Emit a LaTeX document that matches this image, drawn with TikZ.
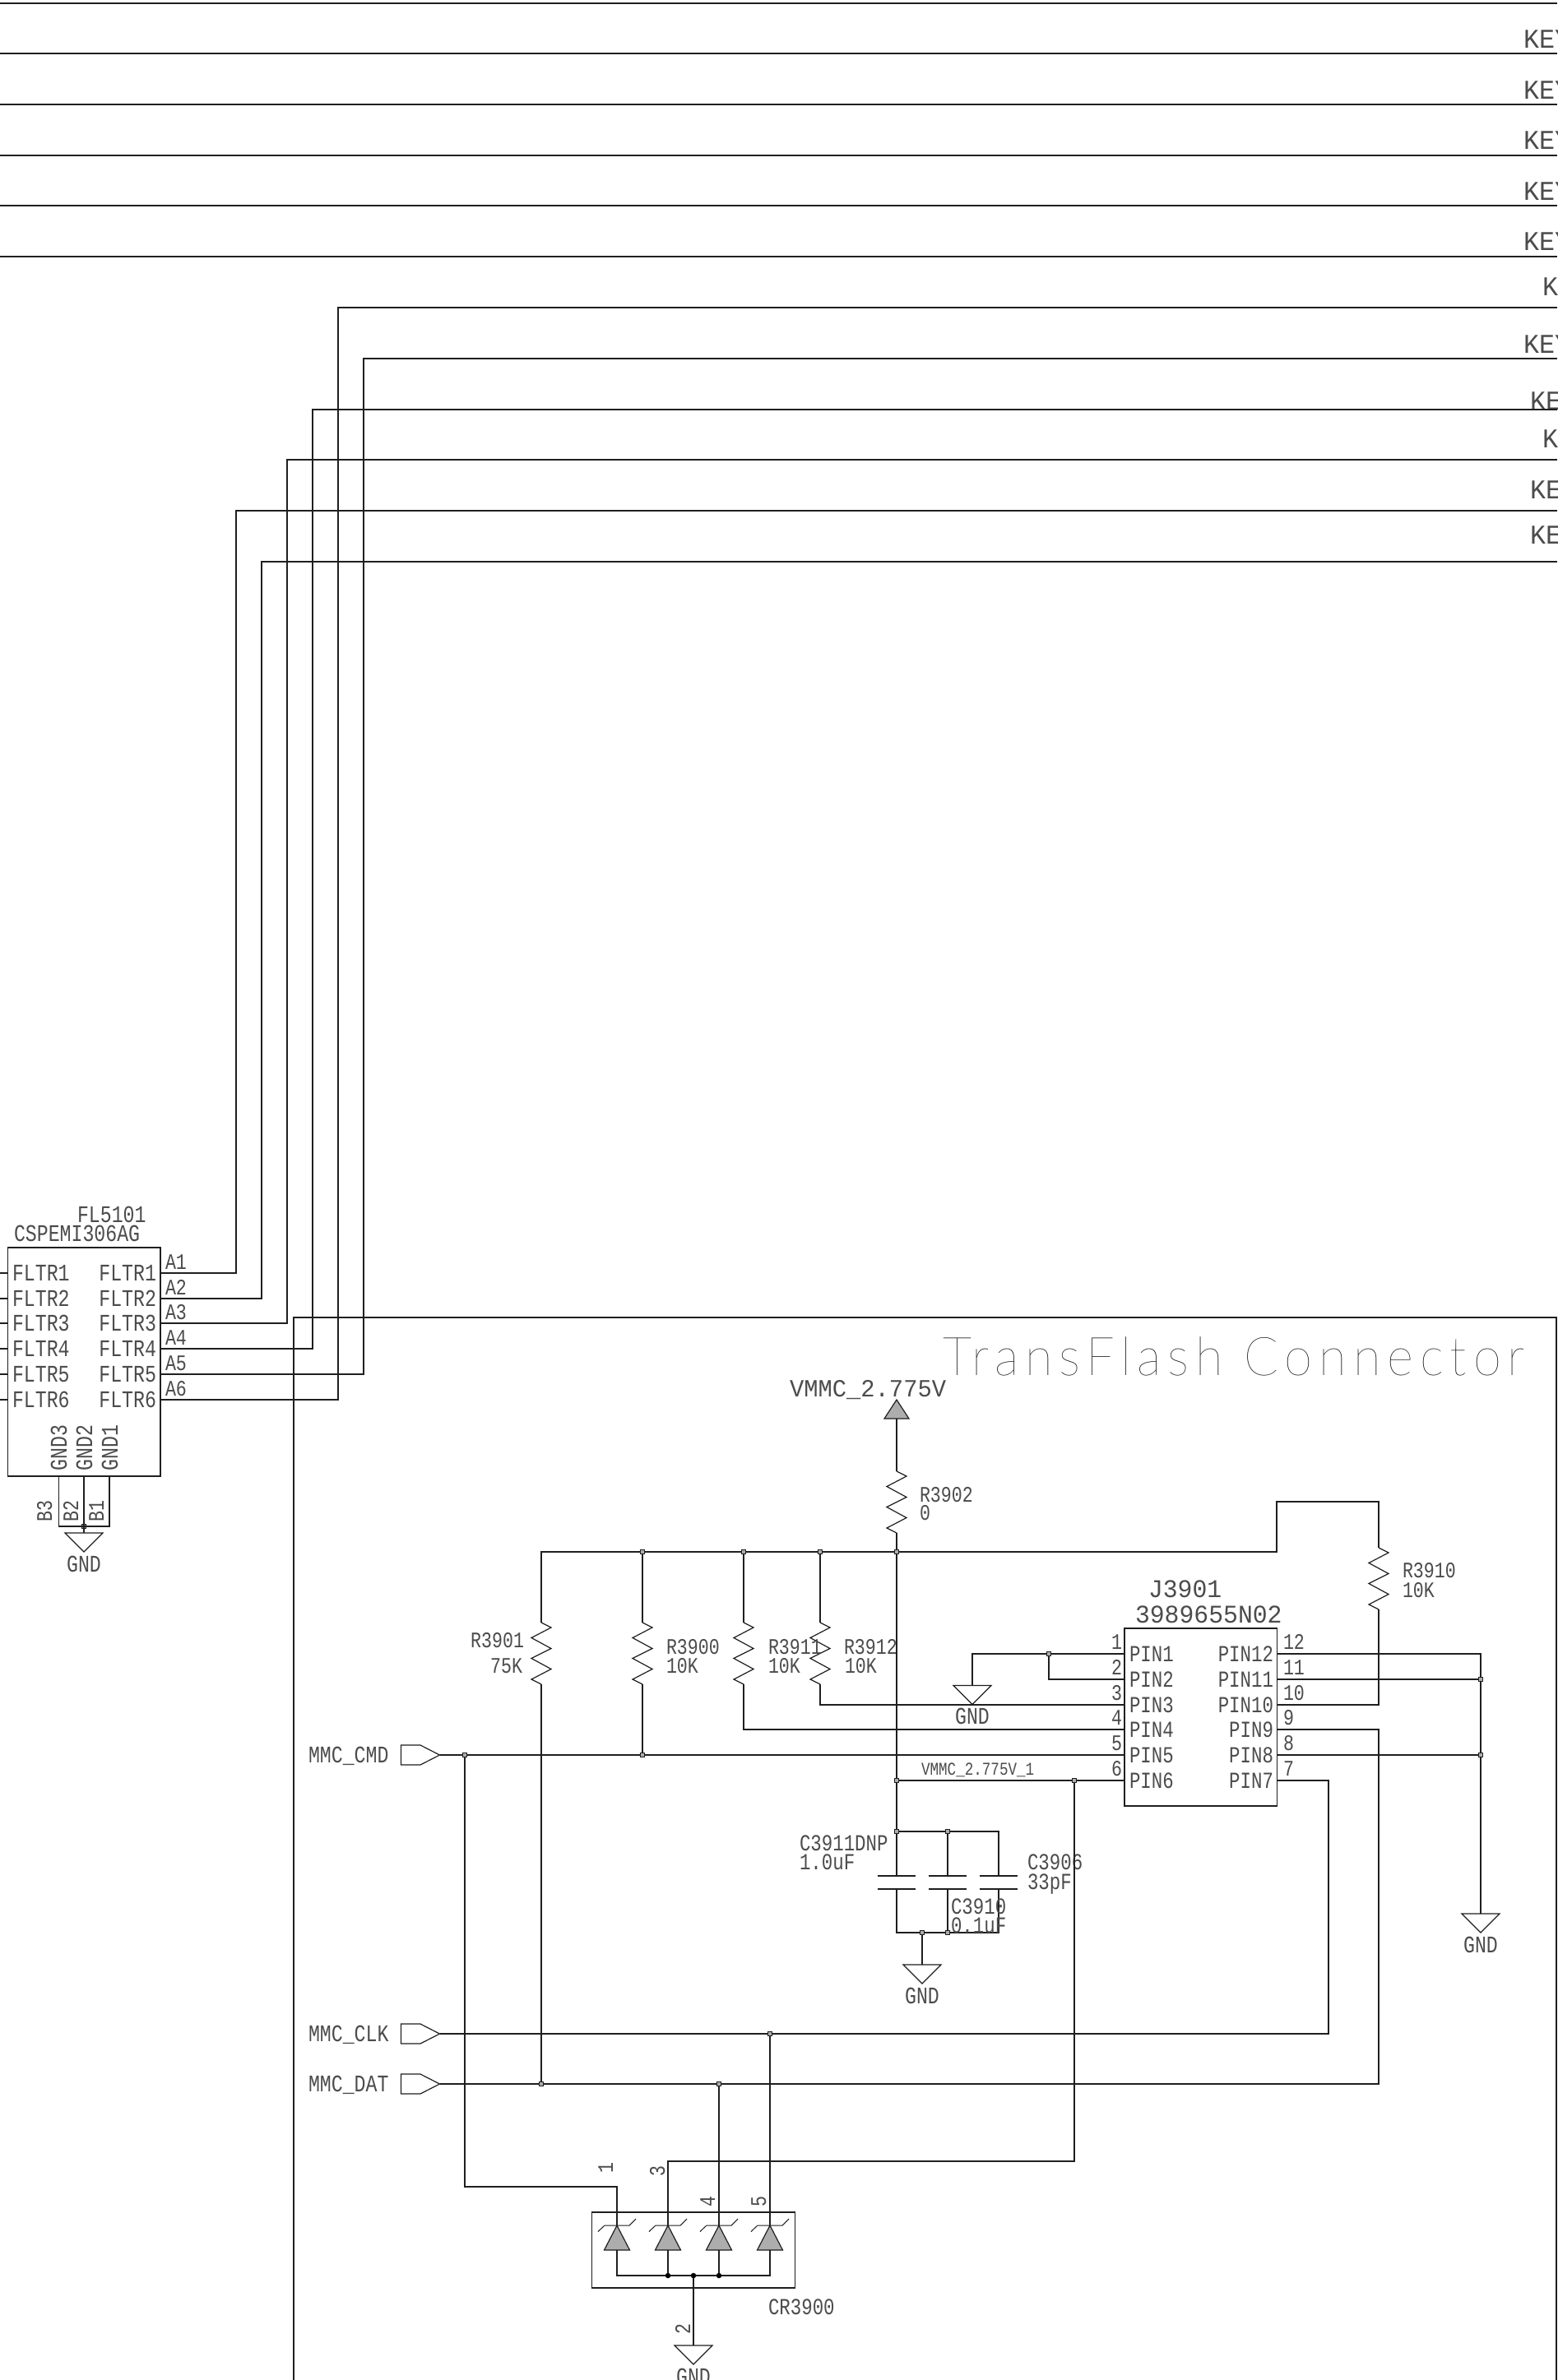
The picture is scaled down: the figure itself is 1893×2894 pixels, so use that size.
\documentclass[tikz,border=0pt]{standalone}
\usepackage{fontspec}
\newfontfamily\cadfont[FakeStretch=0.8]{Liberation Mono}
\newfontfamily\cadwide[FakeStretch=0.96]{Liberation Mono}
\newfontfamily\titlefont[LetterSpace=12,FakeStretch=0.95]{Lato Thin}
\definecolor{ink}{gray}{0.12}
\definecolor{tx}{gray}{0.3}
\definecolor{fillg}{gray}{0.68}
\tikzset{
  wire/.style={draw=ink,line width=1.2pt,line join=miter},
  lbl/.style={font=\cadfont\fontsize{#1}{#1}\selectfont,inner sep=0pt,outer sep=0pt,anchor=base west,text=tx},
  lblw/.style={font=\cadwide\fontsize{#1}{#1}\selectfont,inner sep=0pt,outer sep=0pt,anchor=base west,text=tx},
  lblr/.style={lbl=#1,anchor=base east},
  lblc/.style={lbl=#1,anchor=base},
  lblv/.style={lbl=#1,rotate=90},
  junct/.style={draw=ink,line width=0.8pt,fill=fillg,rectangle,minimum size=5.5pt,inner sep=0pt},
  dotj/.style={fill=black,circle,minimum size=6.5pt,inner sep=0pt},
  part/.style={draw=ink,line width=1.2pt,rectangle,inner sep=0pt},
  plate/.style={draw=ink,line width=1.4pt},
  tri/.style={draw=ink,line width=1.2pt,line join=miter},
  ftri/.style={draw=ink,line width=1.2pt,fill=fillg,line join=miter},
}
% resistor: name, centre x, top y
\newcommand{\resz}[3]{%
  \coordinate (#1-t) at (#2,#3);
  \coordinate (#1-b) at (#2,#3+75);
  \draw[wire] (#1-t) -- ++(12,6) -- ++(-24,12.5) -- ++(24,13) -- ++(-24,12) -- ++(24,13) -- ++(-24,12.5) -- (#1-b);
}
% ground: name, x, top y
\newcommand{\gndz}[3]{%
  \coordinate (#1) at (#2,#3);
  \draw[tri] (#2-23,#3) -- (#2+23,#3) -- (#2,#3+23) -- cycle;
  \node[lblc=29] (#1-t) at (#2,#3+47) {GND};
}
% zener: name, x
\newcommand{\zenz}[2]{%
  \coordinate (#1-a) at (#2,2706);
  \coordinate (#1-k) at (#2,2736);
  \draw[ftri] (#2,2706) -- (#2+15.5,2736) -- (#2-15.5,2736) -- cycle;
  \draw[wire,line width=1pt] (#2-23,2713.5) -- (#2-15,2706) -- (#2+15,2706) -- (#2+23,2698);
}
% capacitor: name, x
\newcommand{\capz}[2]{%
  \coordinate (#1-t) at (#2,2281);
  \coordinate (#1-b) at (#2,2297);
  \draw[plate] (#2-23,2281) -- (#2+23,2281);
  \draw[plate] (#2-23,2297) -- (#2+23,2297);
}
% signal flag: name, y, text
\newcommand{\flagz}[3]{%
  \coordinate (#1-tip) at (534.5,#2);
  \draw[tri] (487.5,#2-12) -- (511,#2-12) -- (534.5,#2) -- (511,#2+12) -- (487.5,#2+12) -- cycle;
  \node[lbl=29] (#1-l) at (375,#2+9) {#3};
}
\begin{document}
\begin{tikzpicture}[x=1pt,y=-1pt]
\clip (0,0) rectangle (1893,2894);
\fill[white] (0,0) rectangle (1893,2894);
% ---------- top bus
\foreach \n/\yy in {a/4,b/65,c/127,d/189,e/250,f/312}{
  \coordinate (bl\n) at (0,\yy);
  \coordinate (br\n) at (1893,\yy);
  \draw[wire] (bl\n) -- (br\n);
}
\foreach \n/\yy in {g/374,h/436,i/498,j/559,k/621,l/683}{
  \coordinate (br\n) at (1893,\yy);
}
\node[lblw=33] (k1) at (1852,58) {KEY};
\node[lblw=33] (k2) at (1852,120) {KEY};
\node[lblw=33] (k3) at (1852,181) {KEY};
\node[lblw=33] (k4) at (1852,243) {KEY};
\node[lblw=33] (k5) at (1852,304.5) {KEY};
\node[lblw=33] (k6) at (1875,359) {K};
\node[lblw=33] (k7) at (1852,429) {KEY};
\node[lblw=33] (k8) at (1860,498) {KE};
\node[lblw=33] (k9) at (1875,544) {K};
\node[lblw=33] (k10) at (1860,606) {KE};
\node[lblw=33] (k11) at (1860,661) {KE};
% ---------- FL5101
\node[part,minimum width=185.5pt,minimum height=278pt] (fl) at (102.25,1656) {};
\node[lbl=29] (flname) at (94,1486) {FL5101};
\node[lbl=29] (flval) at (17,1509) {CSPEMI306AG};
\foreach \i/\yy in {1/1548,2/1579,3/1609,4/1640,5/1671,6/1702}{
  \coordinate (fll\i) at (9.5,\yy);
  \coordinate (flr\i) at (195,\yy);
  \coordinate (fle\i) at (0,\yy);
  \draw[wire] (fle\i) -- (fll\i);
  \node[lbl=29] (flt\i) at (15,\yy+9) {FLTR\i};
  \node[lblr=29] (flu\i) at (190,\yy+9) {FLTR\i};
  \node[lbl=27] (fla\i) at (201,\yy-5) {A\i};
}
\draw[wire] (flr1) -- (287,1548) |- (brk);
\draw[wire] (flr2) -- (318,1579) |- (brl);
\draw[wire] (flr3) -- (349,1609) |- (brj);
\draw[wire] (flr4) -- (380,1640) |- (bri);
\draw[wire] (flr5) -- (442,1671) |- (brh);
\draw[wire] (flr6) -- (411,1702) |- (brg);
\node[lblv=29] (g3) at (81,1788) {GND3};
\node[lblv=29] (g2) at (112,1788) {GND2};
\node[lblv=29] (g1) at (143,1788) {GND1};
\node[lblv=27] (b3) at (63,1850) {B3};
\node[lblv=27] (b2) at (95,1850) {B2};
\node[lblv=27] (b1) at (126,1850) {B1};
\node[junct] (flj) at (102,1856) {};
\gndz{flg}{102}{1864}
\draw[wire] (71.5,1795) -- (71.5,1856) -- (133,1856) -- (133,1795);
\draw[wire] (102,1795) -- (flg);
% ---------- frame
\draw[wire] (357,2894) -- (357,1602) -- (1892,1602) -- (1892,2894);
\node[inner sep=0pt,anchor=base west,text=black,font=\titlefont\fontsize{65}{65}\selectfont] (title) at (1146,1672) {TransFlash Connector};
% ---------- power
\node[lblw=30] (vmmc) at (960,1698) {VMMC\_2.775V};
\draw[ftri] (1090,1702) -- (1105,1725) -- (1075,1725) -- cycle;
\coordinate (vt) at (1090,1725);
\resz{r3902}{1090}{1789}
\node[lbl=27] (r3902n) at (1118,1826) {R3902};
\node[lbl=27] (r3902v) at (1118,1848) {0};
\draw[wire] (vt) -- (r3902-t);
\node[junct] (jr0) at (1090,1887) {};
\node[junct] (jr1) at (997,1887) {};
\node[junct] (jr2) at (904,1887) {};
\node[junct] (jr3) at (781,1887) {};
\draw[wire] (r3902-b) -- (jr0);
\resz{r3901}{658}{1973}
\resz{r3900}{781}{1973}
\resz{r3911}{904}{1973}
\resz{r3912}{997}{1973}
\resz{r3910}{1676}{1882}
\draw[wire] (r3901-t) -- (658,1887) -- (jr3) -- (jr2) -- (jr1) -- (jr0) -- (1552,1887) -- (1552,1826) -- (1676,1826) -- (r3910-t);
\draw[wire] (jr3) -- (r3900-t);
\draw[wire] (jr2) -- (r3911-t);
\draw[wire] (jr1) -- (r3912-t);
\node[lblr=27] (r3901n) at (637,2003) {R3901};
\node[lblr=27] (r3901v) at (635,2034) {75K};
\node[lbl=27] (r3900n) at (810,2011) {R3900};
\node[lbl=27] (r3900v) at (810,2034) {10K};
\node[lbl=27] (r3911n) at (934,2011) {R3911};
\node[lbl=27] (r3911v) at (934,2034) {10K};
\node[lbl=27] (r3912n) at (1026,2011) {R3912};
\node[lbl=27] (r3912v) at (1027,2034) {10K};
\node[lbl=27] (r3910n) at (1705,1918) {R3910};
\node[lbl=27] (r3910v) at (1705,1942) {10K};
% ---------- J3901
\node[part,minimum width=185.4pt,minimum height=216pt] (j) at (1459.7,2088) {};
\node[lblw=31] (jn) at (1396,1942) {J3901};
\node[lblw=31] (jv) at (1380,1973) {3989655N02};
\foreach \i/\yy/\o in {1/2011/12,2/2042/11,3/2073/10,4/2103/9,5/2134/8,6/2165/7}{
  \coordinate (jl\i) at (1367,\yy);
  \coordinate (jr\o) at (1552.4,\yy);
  \node[lbl=28] (jpl\i) at (1373,\yy+9.5) {PIN\i};
  \node[lblr=28] (jpr\o) at (1548,\yy+9.5) {PIN\o};
  \node[lblr=27] (jnl\i) at (1364,\yy-5.5) {\i};
  \node[lbl=27] (jnr\o) at (1560,\yy-5.5) {\o};
}
% pins left
\gndz{jg}{1182}{2049.5}
\node[junct] (j12) at (1275,2011) {};
\draw[wire] (jl1) -- (j12) -- (1182,2011) -- (jg);
\draw[wire] (j12) -- (1275,2042) -- (jl2);
\draw[wire] (r3912-b) -- (997,2073) -- (jl3);
\draw[wire] (r3911-b) -- (904,2103) -- (jl4);
% pins right
\node[junct] (jb11) at (1800,2042) {};
\node[junct] (jb8) at (1800,2134) {};
\gndz{rg}{1800}{2327}
\draw[wire] (jr12) -- (1800,2011) -- (jb11) -- (jb8) -- (rg);
\draw[wire] (jr11) -- (jb11);
\draw[wire] (jr8) -- (jb8);
\draw[wire] (r3910-b) -- (1676,2073) -- (jr10);
% ---------- flags
\flagz{cmd}{2134}{MMC\_CMD}
\flagz{clk}{2473}{MMC\_CLK}
\flagz{dat}{2534}{MMC\_DAT}
\node[junct] (jc1) at (565,2134) {};
\node[junct] (jc2) at (781,2134) {};
\draw[wire] (cmd-tip) -- (jc1) -- (jc2) -- (jl5);
\draw[wire] (r3900-b) -- (jc2);
\node[junct] (jclk) at (936,2473) {};
\draw[wire] (clk-tip) -- (jclk) -- (1615,2473) -- (1615,2165) -- (jr7);
\node[junct] (jd1) at (658,2534) {};
\node[junct] (jd2) at (874,2534) {};
\draw[wire] (dat-tip) -- (jd1) -- (jd2) -- (1676,2534) -- (1676,2103) -- (jr9);
\draw[wire] (r3901-b) -- (jd1);
% ---------- supply net + caps
\node[junct] (jv1) at (1090,2165) {};
\node[junct] (jv2) at (1306,2165) {};
\node[junct] (jv3) at (1090,2227) {};
\node[junct] (jv4) at (1152,2227) {};
\node[lbl=22] (vn) at (1120,2158) {VMMC\_2.775V\_1};
\draw[wire] (jr0) -- (jv1) -- (jv3);
\draw[wire] (jv1) -- (jv2) -- (jl6);
\capz{c1}{1090}
\capz{c2}{1152}
\capz{c3}{1214}
\node[junct] (jb1) at (1121,2350) {};
\node[junct] (jb2) at (1152,2350) {};
\gndz{cg}{1121}{2389}
\draw[wire] (jv3) -- (c1-t);
\draw[wire] (jv3) -- (jv4) -- (1214,2227) -- (c3-t);
\draw[wire] (jv4) -- (c2-t);
\draw[wire] (c1-b) -- (1090,2350) -- (jb1) -- (jb2) -- (1214,2350) -- (c3-b);
\draw[wire] (c2-b) -- (jb2);
\draw[wire] (jb1) -- (cg);
\node[lbl=28] (c1n) at (972,2250) {C3911DNP};
\node[lbl=28] (c1v) at (972,2273) {1.0uF};
\node[lbl=28] (c3n) at (1249,2273) {C3906};
\node[lbl=28] (c3v) at (1249,2297) {33pF};
\node[lbl=28] (c2n) at (1156,2327) {C3910};
\node[lbl=28] (c2v) at (1156,2350) {0.1uF};
% ---------- CR3900
\node[part,minimum width=247pt,minimum height=92pt] (cr) at (842.8,2736) {};
\zenz{z1}{750}
\zenz{z2}{812}
\zenz{z3}{874}
\zenz{z4}{936}
\node[dotj] (dz2) at (812,2767) {};
\node[dotj] (dz) at (843,2767) {};
\node[dotj] (dz3) at (874,2767) {};
\draw[wire] (z1-k) -- (750,2767) -- (dz2) -- (dz) -- (dz3) -- (936,2767) -- (z4-k);
\draw[wire] (z2-k) -- (dz2);
\draw[wire] (z3-k) -- (dz3);
\gndz{crg}{843}{2852}
\draw[wire] (dz) -- (crg);
\draw[wire] (jc1) -- (565,2659) -- (750,2659) -- (z1-a);
\draw[wire] (jv2) -- (1306,2628) -- (812,2628) -- (z2-a);
\draw[wire] (jd2) -- (z3-a);
\draw[wire] (jclk) -- (z4-a);
\node[lblv=27] (p1) at (745,2642) {1};
\node[lblv=27] (p3) at (808,2646) {3};
\node[lblv=27] (p4) at (869,2683) {4};
\node[lblv=27] (p5) at (931,2683) {5};
\node[lblv=27] (p2) at (839,2838) {2};
\node[lbl=28] (crn) at (934,2814) {CR3900};
\end{tikzpicture}
\end{document}
